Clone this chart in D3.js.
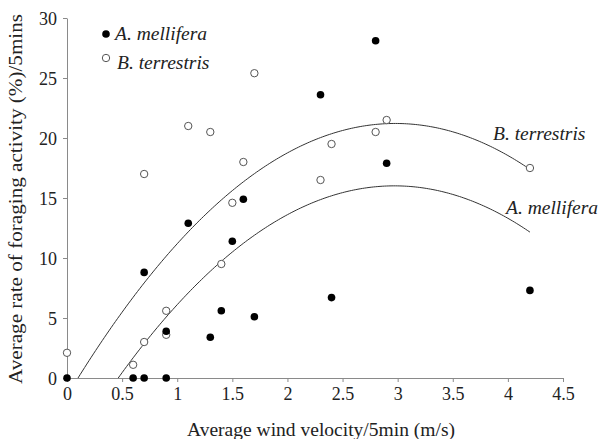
<!DOCTYPE html>
<html>
<head>
<meta charset="utf-8">
<script src="https://cdn.jsdelivr.net/npm/d3@7"></script>
</head>
<body style="margin:0">
<svg id="chart" width="599" height="439"></svg>
<script>
// wind velocity (m/s) vs foraging activity (%)
const melliferaX = [0, 0.6, 0.7, 0.9, 0.7, 0.9, 1.1, 1.3, 1.4, 1.5, 1.6, 1.7, 2.3, 2.4, 2.8, 2.9, 4.2];
const melliferaY = [0, 0, 0, 0, 8.8, 3.9, 12.9, 3.4, 5.6, 11.4, 14.9, 5.1, 23.6, 6.7, 28.1, 17.9, 7.3];
const terrestrisX = [0, 0.6, 0.7, 0.9, 0.9, 1.4, 0.7, 1.1, 1.3, 1.6, 1.5, 1.7, 2.3, 2.4, 2.8, 2.9, 4.2];
const terrestrisY = [2.1, 1.1, 3.0, 5.6, 3.6, 9.5, 17.0, 21.0, 20.5, 18.0, 14.6, 25.4, 16.5, 19.5, 20.5, 21.5, 17.5];

// quadratic trend lines: a + b*x + c*x^2, drawn up to x = 4.2
const melliferaFit = [-6.49, 15.15, -2.55];
const terrestrisFit = [-1.5, 15.25, -2.56];
const fitEnd = 4.2;

const xTicks = [0, 0.5, 1, 1.5, 2, 2.5, 3, 3.5, 4, 4.5];
const yTicks = [0, 5, 10, 15, 20, 25, 30];

const width = 599, height = 439;
const margin = { left: 67, top: 18, right: 36, bottom: 61 };
const serif = "Liberation Serif";

const svg = d3.select("#chart");

const x = d3.scaleLinear().domain([0, 4.5]).range([margin.left, width - margin.right]);
const y = d3.scaleLinear().domain([0, 30]).range([height - margin.bottom, margin.top]);

// #region axes
const axisColor = "#8a8a8a";
const gx = svg.append("g")
    .attr("transform", "translate(0," + y(0) + ")")
    .call(d3.axisBottom(x).tickValues(xTicks).tickSize(4).tickSizeOuter(0).tickPadding(5)
        .tickFormat(d => d3.format("")(d)));
const gy = svg.append("g")
    .attr("transform", "translate(" + x(0) + ",0)")
    .call(d3.axisLeft(y).tickValues(yTicks).tickSize(4).tickSizeOuter(0).tickPadding(6));

[gx, gy].forEach(g => {
    g.attr("font-family", null).attr("font-size", null);
    g.select(".domain").attr("stroke", axisColor);
    g.selectAll(".tick line").attr("stroke", axisColor);
    g.selectAll(".tick text")
        .style("font-family", serif)
        .attr("font-size", 18)
        .attr("fill", "#222");
});
gy.selectAll(".tick text").attr("dy", "0.34em");

svg.append("text")
    .style("font-family", serif)
    .attr("font-size", 19)
    .attr("x", 321)
    .attr("y", 436)
    .attr("text-anchor", "middle")
    .attr("textLength", 268)
    .attr("lengthAdjust", "spacingAndGlyphs")
    .attr("fill", "#222")
    .text("Average wind velocity/5min (m/s)");

svg.append("text")
    .style("font-family", serif)
    .attr("font-size", 19)
    .attr("transform", "translate(22," + 199 + ") rotate(-90)")
    .attr("text-anchor", "middle")
    .attr("textLength", 370)
    .attr("lengthAdjust", "spacingAndGlyphs")
    .attr("fill", "#222")
    .text("Average rate of foraging activity (%)/5mins");
// #endregion

// #region trend lines
svg.append("clipPath").attr("id", "plotClip")
    .append("rect")
    .attr("x", x(0)).attr("y", 0)
    .attr("width", x(4.5) - x(0)).attr("height", y(0));

function fitPoints(coef) {
    const pts = [];
    for (let i = 0; i <= 210; i++) {
        const xv = fitEnd * i / 210;
        pts.push([xv, coef[0] + coef[1] * xv + coef[2] * xv * xv]);
    }
    return pts;
}
const line = d3.line().x(d => x(d[0])).y(d => y(d[1]));
[terrestrisFit, melliferaFit].forEach(coef => {
    svg.append("path")
        .attr("clip-path", "url(#plotClip)")
        .attr("d", line(fitPoints(coef)))
        .attr("fill", "none")
        .attr("stroke", "#333")
        .attr("stroke-width", 1);
});
// #endregion

// #region points
svg.append("g").selectAll("circle")
    .data(terrestrisX.map((d, i) => [d, terrestrisY[i]]))
    .enter().append("circle")
    .attr("cx", d => x(d[0]))
    .attr("cy", d => y(d[1]))
    .attr("r", 3.7)
    .attr("fill", "#fff")
    .attr("stroke", "#555")
    .attr("stroke-width", 1);

svg.append("g").selectAll("circle")
    .data(melliferaX.map((d, i) => [d, melliferaY[i]]))
    .enter().append("circle")
    .attr("cx", d => x(d[0]))
    .attr("cy", d => y(d[1]))
    .attr("r", 3.8)
    .attr("fill", "#000");
// #endregion

// #region legend and curve labels
const italic = (text, px, py) => svg.append("text")
    .style("font-family", serif)
    .style("font-style", "italic")
    .attr("font-size", 19.5)
    .attr("x", px).attr("y", py)
    .attr("fill", "#222")
    .text(text);

svg.append("circle").attr("cx", 106).attr("cy", 34).attr("r", 3.8).attr("fill", "#000");
italic("A. mellifera", 115, 40);
svg.append("circle").attr("cx", 106).attr("cy", 58).attr("r", 3.7)
    .attr("fill", "#fff").attr("stroke", "#555");
italic("B. terrestris", 117, 69);

italic("B. terrestris", 493, 140);
italic("A. mellifera", 506, 214);
// #endregion

svg.selectAll("text").each(function () { this.getComputedTextLength(); });
</script>
</body>
</html>
